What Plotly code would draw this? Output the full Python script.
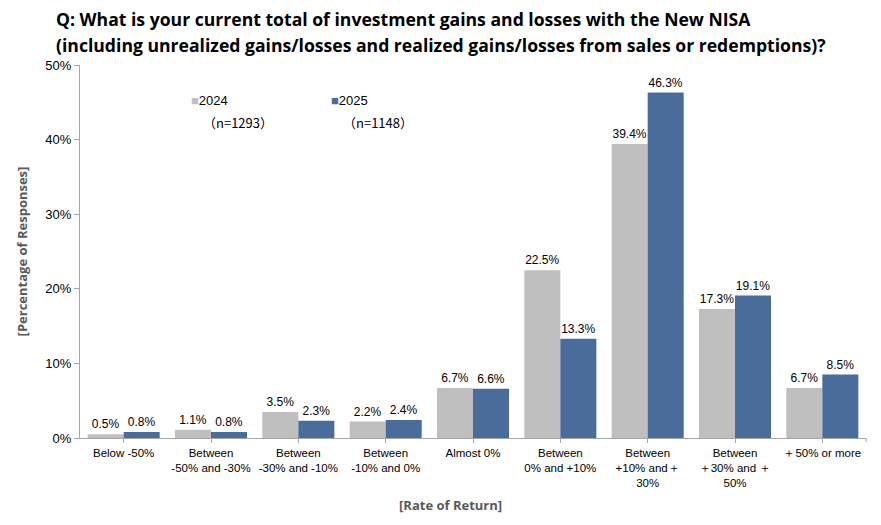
import plotly.graph_objects as go

categories = [
    "Below -50%",
    "Between<br>-50% and -30%",
    "Between<br>-30% and -10%",
    "Between<br>-10% and 0%",
    "Almost 0%",
    "Between<br>0% and +10%",
    "Between<br>+10% and＋<br>30%",
    "Between<br>＋30% and ＋<br>50%",
    "＋50% or more",
]
values_2024 = [0.5, 1.1, 3.5, 2.2, 6.7, 22.5, 39.4, 17.3, 6.7]
values_2025 = [0.8, 0.8, 2.3, 2.4, 6.6, 13.3, 46.3, 19.1, 8.5]
series_names = ["2024", "2025"]
series_n = ["(n=1293)", "(n=1148)"]
colors = ["#bfbfbf", "#4a6c9b"]
y_ticks = [0, 10, 20, 30, 40, 50]

# page body has an 8px offset; all pixel positions below are in screenshot space
OFF = 8
W, H = 881, 525
ml, mr, mt, mb = 80 - OFF, 15 + OFF, 65 - OFF, 87 + OFF
pw = W - ml - mr
ph = H - mt - mb

def px_x(p):
    return (p - OFF - ml) / pw

def px_y(p):
    return (H - mb - (p - OFF)) / ph

fig = go.Figure()
for name, vals, col in zip(series_names, [values_2024, values_2025], colors):
    fig.add_trace(go.Bar(
        x=categories, y=vals, name=name,
        marker=dict(color=col, line=dict(width=0)),
        text=[f"{v:.1f}%" for v in vals],
        textposition="outside",
        textfont=dict(family="Liberation Sans, Arial", size=12, color="#000000"),
        constraintext="none",
        cliponaxis=False,
        showlegend=False,
    ))

fig.update_layout(
    width=W, height=H,
    margin=dict(l=ml, r=mr, t=mt, b=mb, autoexpand=False),
    paper_bgcolor="white", plot_bgcolor="white",
    barmode="group", bargap=0.175, bargroupgap=0,
    font=dict(family="Liberation Sans, Arial", size=12, color="#000000"),
)
fig.update_xaxes(
    showline=True, linecolor="#a6a6a6", linewidth=1,
    ticks="outside", ticklen=4, tickcolor="#a6a6a6",
    tickangle=0, automargin=False,
    tickfont=dict(family="Liberation Sans, Arial", size=11.5, color="#000000"),
    showgrid=False,
)
fig.update_yaxes(
    range=[0, 50], tickvals=y_ticks, ticktext=[f"{t}%" for t in y_ticks],
    showline=True, linecolor="#a6a6a6", linewidth=1,
    ticks="outside", ticklen=5, tickcolor="#a6a6a6",
    tickfont=dict(size=13, color="#000000"),
    showgrid=False, zeroline=False, automargin=False,
    title=dict(text="<b>[Percentage of Responses]</b>",
               font=dict(family="Open Sans, Liberation Sans", size=13, color="#595959"),
               standoff=14),
)

# end tick at right of category axis
fig.add_shape(type="line", xref="paper", yref="paper", x0=1, x1=1,
              y0=0, y1=-4 / ph, line=dict(color="#a6a6a6", width=1))

# Title (two lines placed separately)
title_lines = [
    "Q: What is your current total of investment gains and losses with the New NISA",
    "(including unrealized gains/losses and realized gains/losses from sales or redemptions)?",
]
for line, yc in zip(title_lines, [19, 45]):
    fig.add_annotation(
        xref="paper", yref="paper", x=px_x(54), y=px_y(yc), xanchor="left", yanchor="middle",
        align="left", showarrow=False, text=f"<b>{line}</b>",
        font=dict(family="Open Sans, Liberation Sans", size=17.6, color="#000000"),
    )
# X axis title
fig.add_annotation(
    xref="paper", yref="paper", x=px_x(450), y=px_y(505), xanchor="center", yanchor="middle",
    showarrow=False, text="<b>[Rate of Return]</b>",
    font=dict(family="Open Sans, Liberation Sans", size=13, color="#595959"),
)
# Legend
for i, (name, n, col) in enumerate(zip(series_names, series_n, colors)):
    x0 = [189, 329][i]
    fig.add_annotation(
        xref="paper", yref="paper", x=px_x(x0), y=px_y(101), xanchor="left", yanchor="middle",
        showarrow=False, align="left",
        text=f"<span style='color:{col}'>■</span>{name}",
        font=dict(size=13, color="#000000"),
    )
    fig.add_annotation(
        xref="paper", yref="paper", x=px_x(x0 + 12), y=px_y(122), xanchor="left", yanchor="middle",
        showarrow=False, align="left", text=f"（n={n[3:-1]}）",
        font=dict(family="Noto Sans CJK JP, Liberation Sans", size=13, color="#000000"),
    )

fig.write_html("out.html")
